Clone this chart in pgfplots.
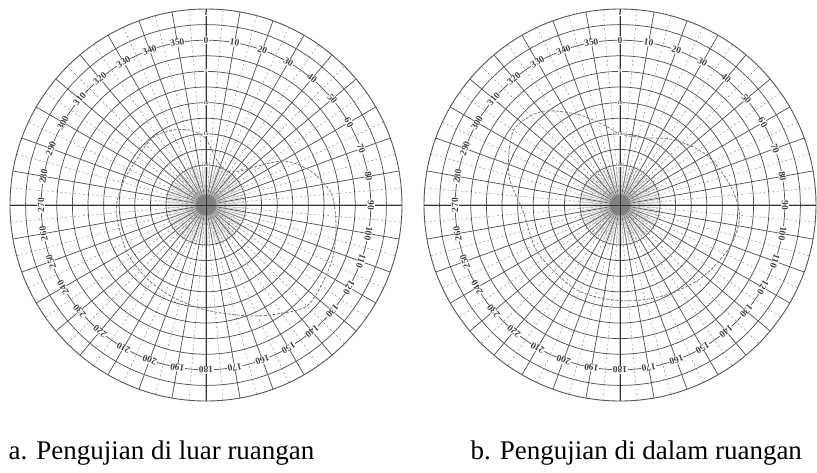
\documentclass[border=0pt]{standalone}
\usepackage{fontspec}
\setmainfont{Liberation Serif}
\usepackage{pgfplots}
\usepackage{pgfplotstable}
\pgfplotsset{compat=1.18}
\usepgfplotslibrary{polar}

\definecolor{gridgray}{HTML}{555555}
\definecolor{curvegray}{HTML}{7A7A7A}

% measured patterns: bearing (deg, clockwise from north) and radius on the paper scale
\pgfplotstableread{
deg r
0   67
15  45
30  40
44  47
60  88
72  110
85  126
100 132
115 138
134 143
147 130
160 118
180 105
200 98
220 94
240 92
266 90
285 86
302 83
321 86
336 82
349 76
360 67
}\luar

\pgfplotstableread{
deg r
0   70
21  72
40  85
60  100
80  112
95  120
110 118
130 110
150 102
170 97
190 95
210 95
240 95
266 97
285 115
305 130
320 122
335 100
350 80
360 70
}\dalam

\pgfplotsset{
  polarpaper/.style={
    scale only axis, width=392pt, height=392pt,
    anchor=center,
    ymin=0, ymax=196,
    xtick={0,10,...,350}, minor xtick={5,15,...,355},
    ytick={40,55.6,71.2,86.8,102.4,118,133.6,149.2,164.8,180.4},
    minor ytick={10,20,30},
    xticklabels={}, yticklabels={},
    major tick length=0pt, minor tick length=0pt,
    grid=both,
    major grid style={gridgray, line width=0.75pt},
    minor grid style={gridgray!70, line width=0.45pt, dash pattern=on 2pt off 2.5pt},
    axis line style={gridgray, line width=0.9pt},
  },
  pattern/.style={curvegray, line width=0.8pt, smooth, dash pattern=on 3pt off 1.5pt},
}

% extra paper details around one chart centre
\newcommand\paperdetails{%
  \foreach \a in {0,4,...,356} \draw[gridgray!60, line width=0.3pt] (\a:6pt) -- (\a:40pt);
  \fill[gridgray!75] (0,0) circle (10pt);
  \draw[black!80, line width=1pt] (-196pt,0) -- (196pt,0);
  \draw[black!80, line width=1pt] (0,-196pt) -- (0,196pt);
  \foreach \a in {0,10,...,350}
    \node[font=\fontsize{9.5}{10}\selectfont\bfseries, text=black!75, rotate=-\a,
          fill=white, inner sep=0.5pt] at ({90-\a}:165pt) {\a};
  \foreach \r/\t in {191/0,133.6/5,102.4/10,71.2/15,40/20}
    \node[font=\fontsize{5}{5}\selectfont\bfseries, text=black!75,
          fill=white, inner sep=0.3pt] at (0,\r pt) {\t};
}

\begin{document}
\begin{tikzpicture}
\path[use as bounding box] (0,0) rectangle (817pt,-472pt);

\begin{polaraxis}[polarpaper, at={(206pt,-205pt)}]
  \addplot[pattern] table[x expr=90-\thisrow{deg}, y=r] {\luar};
\end{polaraxis}
\begin{scope}[shift={(206pt,-205pt)}]
  \paperdetails
\end{scope}

\begin{polaraxis}[polarpaper, at={(620pt,-205pt)}]
  \addplot[pattern] table[x expr=90-\thisrow{deg}, y=r] {\dalam};
\end{polaraxis}
\begin{scope}[shift={(620pt,-205pt)}]
  \paperdetails
\end{scope}

\node[anchor=base west, font=\fontsize{27}{31}\selectfont] at (5pt,-459pt)
  {a. Pengujian di luar ruangan};
\node[anchor=base west, font=\fontsize{27}{31}\selectfont] at (467pt,-459pt)
  {b. Pengujian di dalam ruangan};
\end{tikzpicture}
\end{document}
